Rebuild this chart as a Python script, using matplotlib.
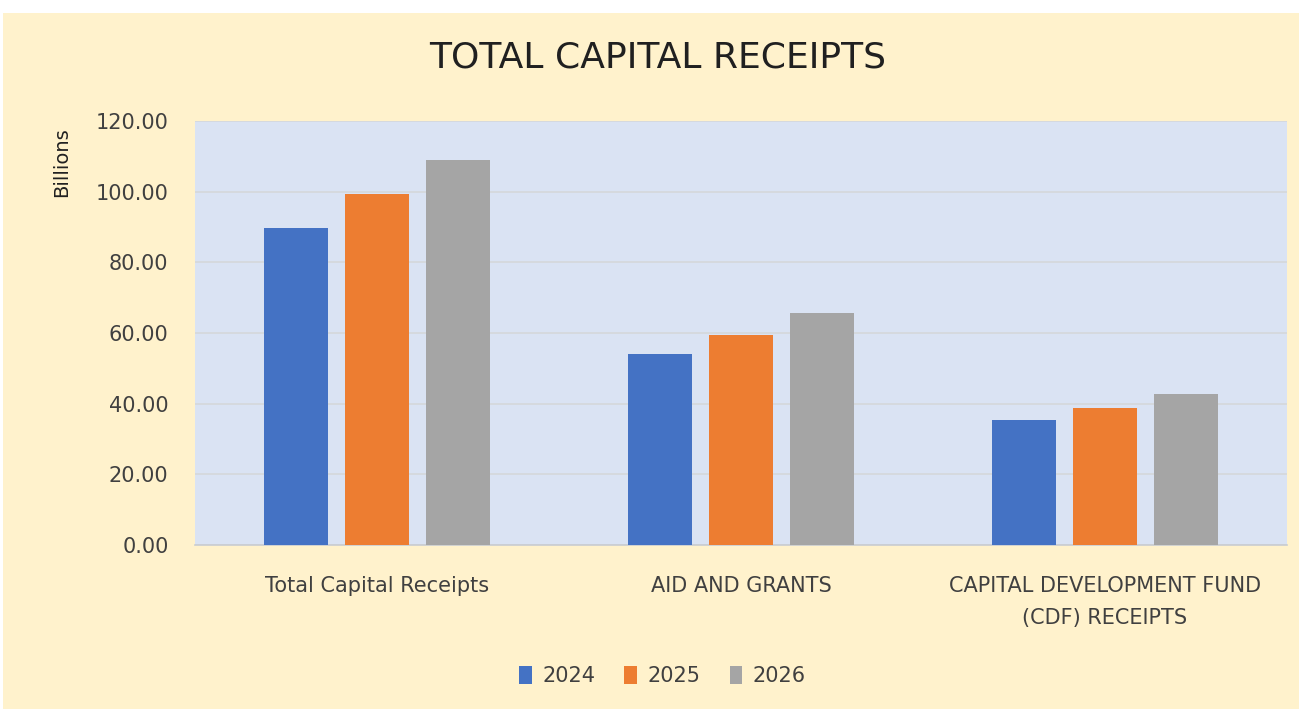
import matplotlib.pyplot as plt
import numpy as np
from matplotlib.patches import Rectangle

categories = ["Total Capital Receipts", "AID AND GRANTS",
              "CAPITAL DEVELOPMENT FUND\n(CDF) RECEIPTS"]
years = ["2024", "2025", "2026"]
v2024 = [89.7, 54.0, 35.4]
v2025 = [99.2, 59.5, 38.8]
v2026 = [109.1, 65.6, 42.6]
colors = ["#4472C4", "#ED7D31", "#A5A5A5"]

plt.rcParams['font.family'] = ['DejaVu Sans']

fig = plt.figure(figsize=(12.99, 7.09), dpi=100, facecolor="white")
fig.patches.append(Rectangle((3/1299, 0), 1, (709-13)/709, transform=fig.transFigure,
                             facecolor="#FFF2CC", edgecolor="none", zorder=-10))
ax = fig.add_axes([195/1299, 164/709, 1092/1299, 424/709])
ax.set_facecolor("#DAE3F3")

x = np.arange(len(categories))
w = 0.176
step = 0.2225
for i, (vals, yr) in enumerate(zip([v2024, v2025, v2026], years)):
    ax.bar(x + (i - 1) * step, vals, w, color=colors[i], label=yr, zorder=3)

ax.set_xlim(-0.5, 2.5)
ax.set_ylim(0, 120)
ax.set_yticks(np.arange(0, 121, 20))
ax.set_yticklabels(["%.2f" % t for t in np.arange(0, 121, 20)], fontsize=15, color="#404040")
ax.set_xticks(x)
ax.set_xticklabels(categories, fontsize=15, color="#404040", linespacing=1.8)
ax.tick_params(axis="both", length=0)
ax.tick_params(axis="y", pad=19)
ax.tick_params(axis="x", pad=22)
ax.yaxis.grid(True, color="#D5D8DC", linewidth=1.3, zorder=0)
for s in ["top", "right", "left"]:
    ax.spines[s].set_visible(False)
ax.spines["bottom"].set_color("#C8CCD2")
ax.spines["bottom"].set_linewidth(1.2)

fig.text(0.506, (709-58)/709, "TOTAL CAPITAL RECEIPTS", ha="center", va="center",
         fontsize=26, color="#202020")
fig.text(62/1299, (709-162)/709, "Billions", rotation=90, ha="center", va="center",
         fontsize=14, color="#202020")

fig.legend(loc="center", bbox_to_anchor=(0.51, (709-676)/709), ncol=3, frameon=False,
           fontsize=15, handlelength=0.6, handleheight=1.0, handletextpad=0.5,
           columnspacing=1.4, labelcolor="#404040")

fig.savefig("out.png", dpi=100, facecolor=fig.get_facecolor())
